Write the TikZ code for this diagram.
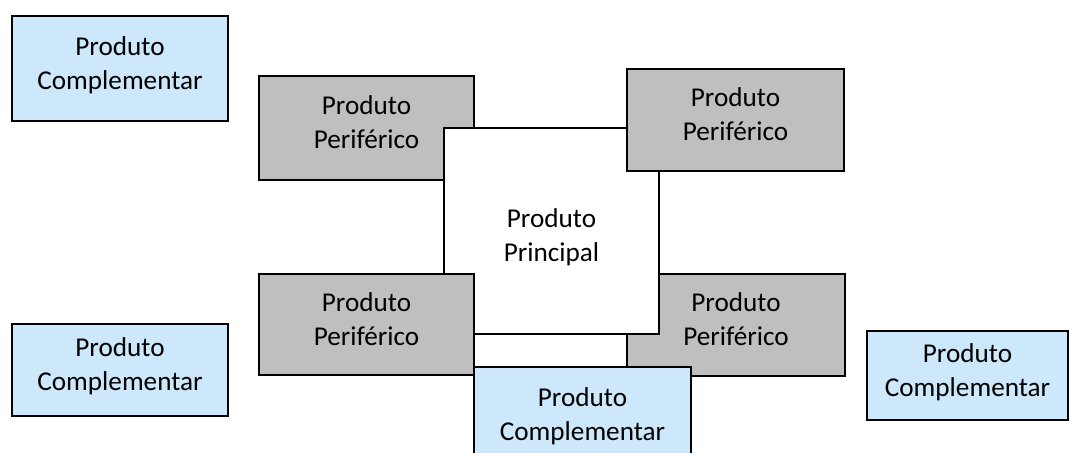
\documentclass[tikz,border=0pt]{standalone}
\usepackage{fontspec}
\setmainfont{Carlito}
\definecolor{compblue}{RGB}{204,232,250}
\definecolor{perigray}{RGB}{191,191,191}
\tikzset{
  box/.style={draw=black, line width=1pt, rectangle, inner sep=0pt, align=center,
    text depth=5.5pt, font=\fontsize{13.6}{17}\selectfont},
  compbox/.style={box, fill=compblue},
  peribox/.style={box, fill=perigray},
  mainbox/.style={box, fill=white, text height=31pt, text depth=0pt},
}
\begin{document}
\begin{tikzpicture}[x=0.5pt,y=-0.5pt]
\useasboundingbox (0,0) rectangle (1070,453);
\begin{scope}
\clip (0,0) rectangle (1070,453);
\node[peribox, minimum width=107.5pt, minimum height=52pt] (pTL) at (366.5,128) {Produto\\Periférico};
\node[peribox, minimum width=109pt, minimum height=51pt] (pBR) at (736,325) {Produto\\Periférico};
\node[mainbox, minimum width=107.5pt, minimum height=103pt] (main) at (551.5,231) {Produto\\Principal};
\node[peribox, minimum width=108.5pt, minimum height=51pt] (pTR) at (735.5,120) {Produto\\Periférico};
\node[peribox, minimum width=107.5pt, minimum height=50.5pt] (pBL) at (366.5,324.5) {Produto\\Periférico};
\node[compbox, minimum width=108.5pt, minimum height=53pt] (cBC) at (582.5,420) {Produto\\Complementar};
\node[compbox, minimum width=108pt, minimum height=52.5pt] (cTL) at (120,68.5) {Produto\\Complementar};
\node[compbox, minimum width=108pt, minimum height=46pt] (cBL) at (120,370) {Produto\\Complementar};
\node[compbox, minimum width=100.5pt, minimum height=44.5pt] (cR) at (967.5,376) {Produto\\Complementar};
\end{scope}
\end{tikzpicture}
\end{document}
